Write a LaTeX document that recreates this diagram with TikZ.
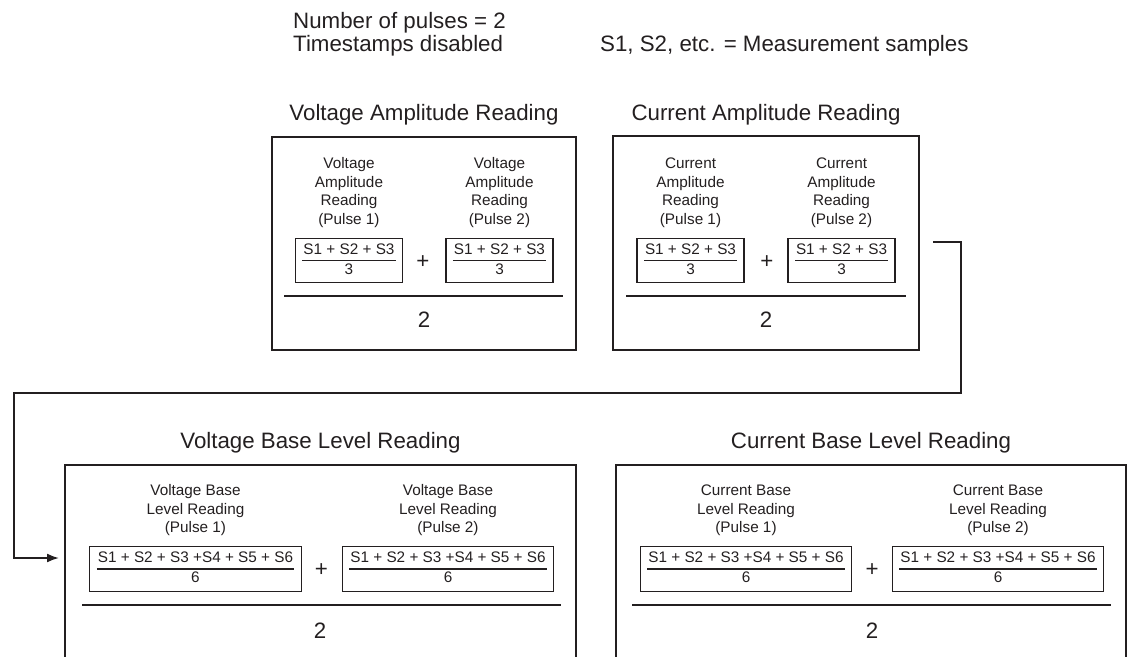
\documentclass[tikz,border=0pt]{standalone}
\usepackage{fontspec}
\setmainfont{Liberation Sans}
\usetikzlibrary{positioning,arrows.meta}
\definecolor{ink}{HTML}{231F20}
\setlength{\arrayrulewidth}{1.3pt}
\newcommand{\smpfrac}[2]{\begin{tabular}{@{\hspace{1pt}}c@{\hspace{1pt}}}#1\\\hline #2\end{tabular}}
\tikzset{
  bigfont/.style={font=\fontsize{22.3}{24}\selectfont,inner sep=0pt},
  smallfont/.style={font=\fontsize{15.3}{18.5}\selectfont},
  panel/.style={draw=ink,line width=2pt,inner sep=0pt},
  fbox/.style={draw=ink,line width=1.2pt,inner xsep=7pt,inner ysep=3pt,smallfont},
  lbl/.style={align=center,inner sep=0pt,smallfont},
  bar/.style={ink,line width=2.5pt},
}
\begin{document}
\begin{tikzpicture}[x=1pt,y=-1pt,color=ink,>={Latex[length=12pt,width=9pt]}]
  \useasboundingbox (0,0) rectangle (1129,656);
  \clip (0,0) rectangle (1129,656);
  % header
  \node[bigfont,anchor=base west] (npulse) at (293,28) {Number of pulses = 2};
  \node[bigfont,anchor=base west] (tstamp) at (293,51) {Timestamps disabled};
  \node[bigfont,anchor=base west] (smeas) at (600,51) {S1, S2, etc. = Measurement samples};

  % amplitude panels
  \node[panel,minimum width=304pt,minimum height=213pt] (vamp) at (424,243.5) {};
  \node[bigfont,anchor=base] (vampt) at (424,120) {Voltage Amplitude Reading};
  \foreach \p/\x in {1/349,2/499.5}{
    \node[fbox] (va\p) at (\x,260.5) {\smpfrac{S1 + S2 + S3}{3}};
    \node[lbl,above=10pt of va\p] (val\p) {Voltage\\Amplitude\\Reading\\(Pulse \p)};
  }
  \node[bigfont] (vaplus) at (423,262) {+};
  \draw[bar] (284,296) -- (563,296);
  \node[bigfont] (vatwo) at (424,320) {2};

  \node[panel,minimum width=306pt,minimum height=214pt] (camp) at (766,243) {};
  \node[bigfont,anchor=base] (campt) at (766,120) {Current Amplitude Reading};
  \foreach \p/\x in {1/690.5,2/841.5}{
    \node[fbox] (ca\p) at (\x,260.5) {\smpfrac{S1 + S2 + S3}{3}};
    \node[lbl,above=10pt of ca\p] (cal\p) {Current\\Amplitude\\Reading\\(Pulse \p)};
  }
  \node[bigfont] (caplus) at (767,262) {+};
  \draw[bar] (626,296) -- (906,296);
  \node[bigfont] (catwo) at (766,320) {2};

  % base level panels
  \node[panel,minimum width=511pt,minimum height=235pt] (vbase) at (320.5,582.5) {};
  \node[bigfont,anchor=base] (vbaset) at (320.5,448) {Voltage Base Level Reading};
  \foreach \p/\x in {1/195.5,2/448}{
    \node[fbox] (vb\p) at (\x,569) {\smpfrac{S1 + S2 + S3 +S4 + S5 + S6}{6}};
    \node[lbl,above=10pt of vb\p] (vbl\p) {Voltage Base\\Level Reading\\(Pulse \p)};
  }
  \node[bigfont] (vbplus) at (321.5,570) {+};
  \draw[bar] (82,605) -- (561,605);
  \node[bigfont] (vbtwo) at (320,631) {2};

  \node[panel,minimum width=510pt,minimum height=235pt] (cbase) at (871,582.5) {};
  \node[bigfont,anchor=base] (cbaset) at (871,448) {Current Base Level Reading};
  \foreach \p/\x in {1/746,2/998}{
    \node[fbox] (cb\p) at (\x,569) {\smpfrac{S1 + S2 + S3 +S4 + S5 + S6}{6}};
    \node[lbl,above=10pt of cb\p] (cbl\p) {Current Base\\Level Reading\\(Pulse \p)};
  }
  \node[bigfont] (cbplus) at (872,570) {+};
  \draw[bar] (632,605) -- (1111,605);
  \node[bigfont] (cbtwo) at (872,631) {2};

  % hand-over from amplitude to base level
  \coordinate (cout) at (933,242);
  \coordinate (cin) at (59,558);
  \draw[->,line width=1.8pt] (cout) -| (961,393) -| (14,558) -- (cin);
\end{tikzpicture}
\end{document}
